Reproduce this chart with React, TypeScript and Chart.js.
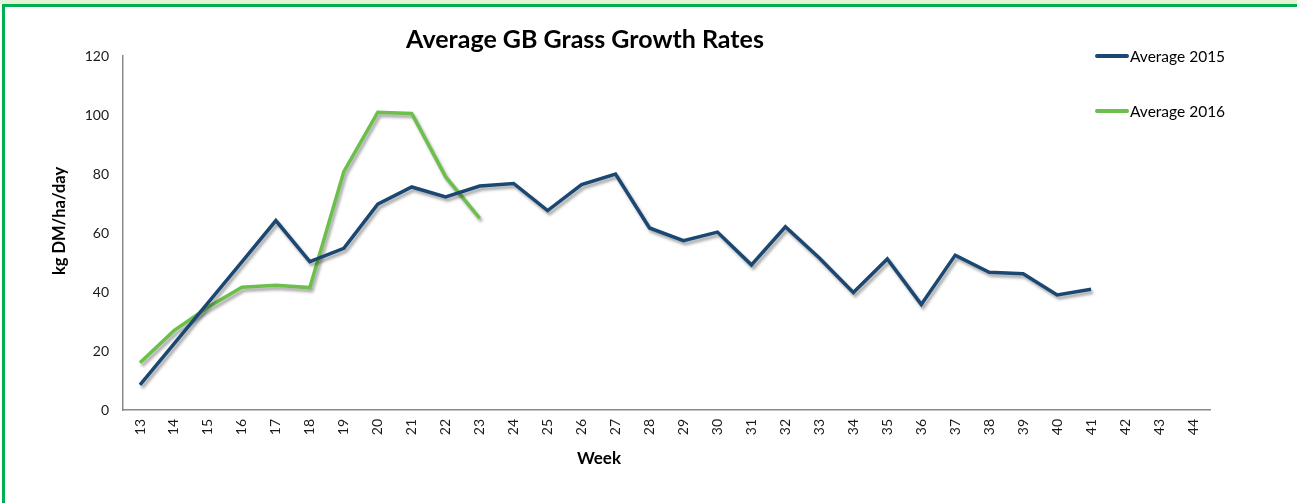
import React, { useEffect, useRef } from "react";
import Chart from "chart.js/auto";

const weeks = [
  "13", "14", "15", "16", "17", "18", "19", "20", "21", "22", "23", "24", "25", "26", "27", "28",
  "29", "30", "31", "32", "33", "34", "35", "36", "37", "38", "39", "40", "41", "42", "43", "44",
];
const average2015 = [
  8.5, 22.4, 36.3, 50.2, 64.2, 50.3, 54.8, 69.8, 75.6, 72.2, 75.9, 76.8, 67.6, 76.4, 80.0, 61.7,
  57.4, 60.3, 49.2, 62.1, 51.5, 39.8, 51.2, 35.8, 52.5, 46.7, 46.2, 39.0, 40.9,
];
const average2016 = [16.0, 26.9, 34.8, 41.6, 42.3, 41.5, 80.8, 100.9, 100.5, 79.0, 65.0];
const seriesLabels = ["Average 2015", "Average 2016"];
const seriesColors = ["#1b4872", "#6cbf4a"];
const yMin = 0;
const yMax = 120;
const yStep = 20;
const chartTitle = "Average GB Grass Growth Rates";
const xTitle = "Week";
const yTitle = "kg DM/ha/day";

const FONT = "Lato, 'Open Sans', sans-serif";

const shadowPlugin = {
  id: "lineShadow",
  beforeDatasetsDraw(chart: any) {
    const ctx = chart.ctx;
    ctx.save();
    ctx.shadowColor = "rgba(0,0,0,0.35)";
    ctx.shadowBlur = 3;
    ctx.shadowOffsetX = 2;
    ctx.shadowOffsetY = 3;
  },
  afterDatasetsDraw(chart: any) {
    chart.ctx.restore();
  },
};

const textPlugin = {
  id: "texts",
  afterDraw(chart: any) {
    const ctx = chart.ctx;
    ctx.save();
    ctx.fillStyle = "#000";
    ctx.textBaseline = "middle";
    ctx.textAlign = "center";
    // title
    ctx.font = `bold 25px ${FONT}`;
    ctx.fillText(chartTitle, 585, 40);
    // x title
    ctx.font = `bold 17px ${FONT}`;
    ctx.fillText(xTitle, 599, 459);
    // y title
    ctx.save();
    ctx.translate(60, 221);
    ctx.rotate(-Math.PI / 2);
    ctx.font = `bold 16.5px ${FONT}`;
    ctx.fillText(yTitle, 0, 0);
    ctx.restore();
    // legend
    ctx.textAlign = "left";
    ctx.font = `15.5px ${FONT}`;
    const items = chart.data.datasets;
    items.forEach((ds: any, i: number) => {
      const y = 56 + i * 55;
      ctx.strokeStyle = ds.borderColor;
      ctx.lineWidth = 4;
      ctx.lineCap = "round";
      ctx.beginPath();
      ctx.moveTo(1097, y);
      ctx.lineTo(1127, y);
      ctx.stroke();
      ctx.fillStyle = "#000";
      ctx.fillText(ds.label, 1130, y + 1);
    });
    ctx.restore();
  },
};

export default function App() {
  const ref = useRef<HTMLCanvasElement | null>(null);
  useEffect(() => {
    if (!ref.current) return;
    const chart = new Chart(ref.current, {
      type: "line",
      data: {
        labels: weeks,
        datasets: [
          {
            label: seriesLabels[0],
            data: average2015,
            borderColor: seriesColors[0],
            backgroundColor: seriesColors[0],
            borderWidth: 3.5,
            pointRadius: 0,
            tension: 0,
            borderJoinStyle: "miter",
          },
          {
            label: seriesLabels[1],
            data: average2016,
            borderColor: seriesColors[1],
            backgroundColor: seriesColors[1],
            borderWidth: 3.5,
            pointRadius: 0,
            tension: 0,
            borderJoinStyle: "miter",
          },
        ],
      },
      options: {
        responsive: false,
        animation: false,
        layout: { padding: { top: 56, right: 87, left: 0, bottom: 33 } },
        plugins: {
          legend: { display: false },
          title: { display: false },
          tooltip: { enabled: false },
        },
        scales: {
          x: {
            type: "category",
            offset: true,
            grid: { display: false, drawTicks: false },
            border: { display: true, color: "#8a8a8a", width: 1.5 },
            ticks: {
              autoSkip: false,
              minRotation: 90,
              maxRotation: 90,
              padding: 9,
              color: "#1a1a1a",
              font: { family: FONT, size: 14 },
            },
            afterFit: (scale: any) => {
              scale.height = 60;
            },
          },
          y: {
            min: yMin,
            max: yMax,
            grid: { display: false, drawTicks: false },
            border: { display: true, color: "#8a8a8a", width: 1.5 },
            ticks: {
              stepSize: yStep,
              padding: 14,
              color: "#1a1a1a",
              font: { family: FONT, size: 14 },
            },
            afterFit: (scale: any) => {
              scale.width = 123;
            },
          },
        },
      },
      plugins: [shadowPlugin, textPlugin],
    });
    return () => chart.destroy();
  }, []);

  return (
    <div
      style={{
        position: "fixed",
        left: 0,
        top: 0,
        width: 1297,
        height: 503,
        background: "#fff",
        overflow: "hidden",
      }}
    >
      <div style={{ position: "absolute", left: 0, top: 0, width: "100%", height: 4, background: "#e2f4d5" }} />
      <div
        style={{
          position: "absolute",
          left: 2,
          top: 4,
          right: -10,
          bottom: -10,
          borderTop: "3px solid #00b050",
          borderLeft: "3px solid #00b050",
        }}
      />
      <canvas ref={ref} width={1297} height={503} style={{ position: "absolute", left: 0, top: 0 }} />
    </div>
  );
}
